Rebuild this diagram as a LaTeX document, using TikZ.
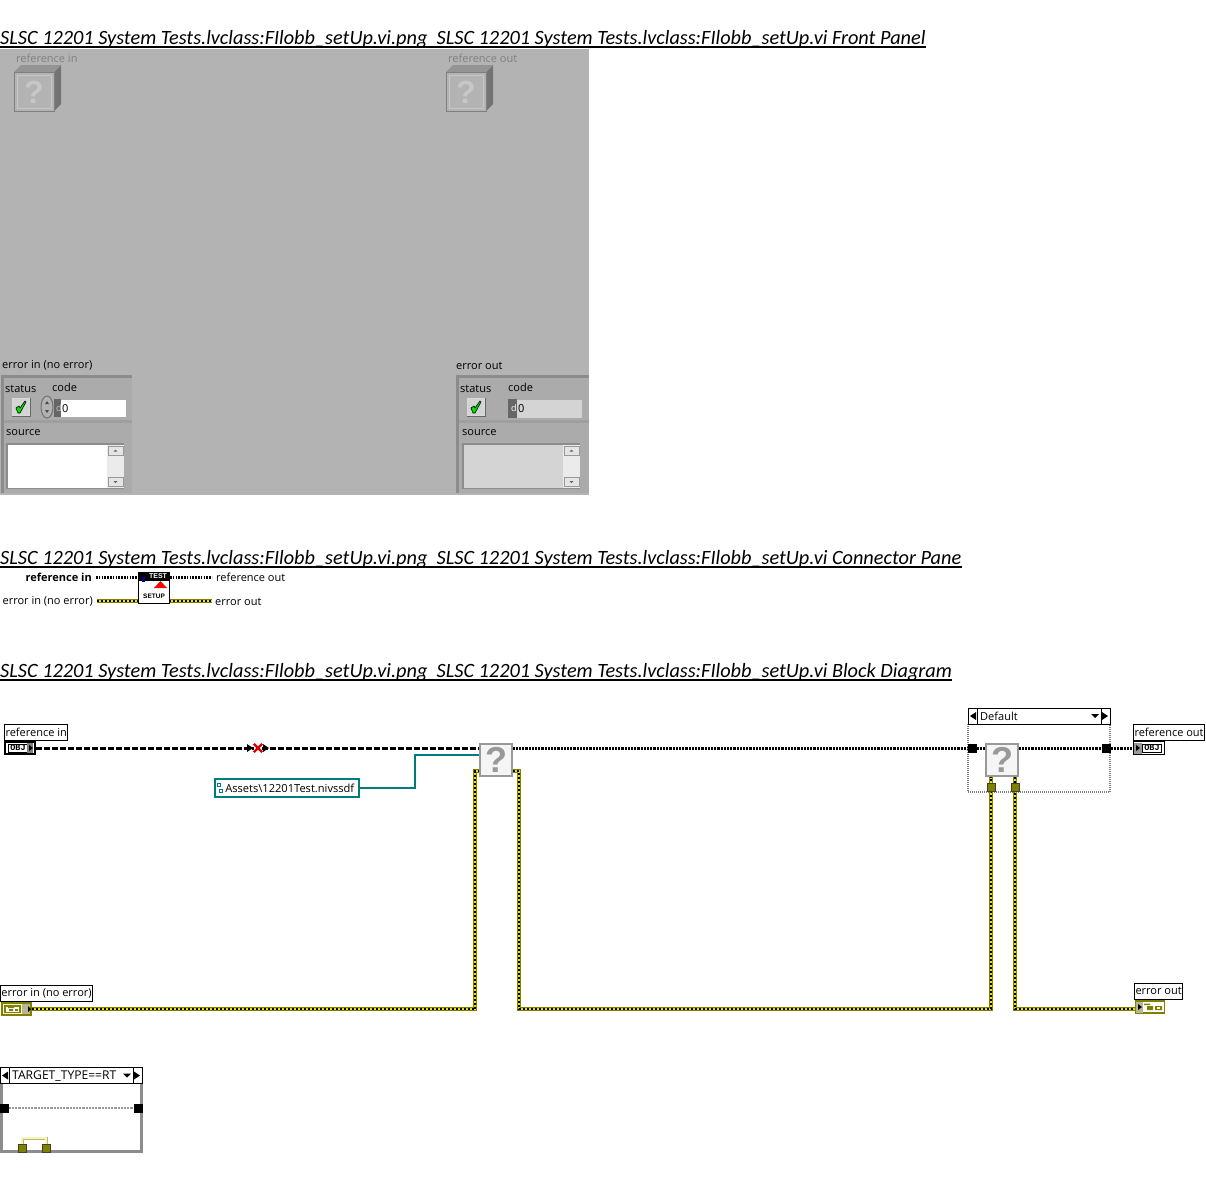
\documentclass[tikz,border=0pt]{standalone}
\usepackage{fontspec}
\setmainfont{Open Sans}
\newfontfamily\titlefont{Carlito}
\newfontfamily\heavyfont{Liberation Sans}
\newfontfamily\objfont{Liberation Mono}
\usepackage{tikz}
\usetikzlibrary{shapes,positioning,arrows,backgrounds}
\definecolor{PanelGrey}{HTML}{B3B3B3}
\definecolor{ClusterGrey}{HTML}{ABABAB}
\definecolor{EdgeGrey}{HTML}{8C8C8C}
\definecolor{LightGrey}{HTML}{D4D4D4}
\definecolor{WireYellow}{HTML}{F2E600}
\definecolor{TunnelOlive}{HTML}{808000}
\definecolor{PaleYellow}{HTML}{F4F4C4}
\definecolor{PathTeal}{HTML}{007C7C}

\begin{document}
\begin{tikzpicture}[x=1pt,y=-1pt,
		titlenode/.style={anchor=west, inner sep=0pt, font=\titlefont\fontsize{20.3}{22}\selectfont\itshape},
		titleline/.style={draw=black, line width=2pt},
		plain/.style={anchor=west, inner sep=0pt, font=\fontsize{11}{12}\selectfont},
		dimmed/.style={plain, text=black!50},
		labelbox/.style={plain, draw=black, fill=white, line width=1pt, inner xsep=1pt, minimum height=16pt},
		whatnode/.style={rectangle, draw=black!40, fill=black!4, line width=1.3pt, minimum size=32pt, inner sep=0pt, text=black!40, font=\heavyfont\bfseries\fontsize{36}{36}\selectfont},
		tunnel/.style={rectangle, draw=black!70!olive, fill=TunnelOlive, minimum size=8pt, inner sep=0pt},
		blacktunnel/.style={rectangle, fill=black, minimum size=9pt, inner sep=0pt},
		objterm/.style={rectangle, draw=black, fill=white, line width=2.4pt, minimum width=30pt, minimum height=12pt, inner sep=0pt},
		objtext/.style={draw=black, line width=1pt, fill=white, inner sep=0pt, minimum width=20pt, minimum height=8pt, font=\objfont\bfseries\fontsize{8.5}{8}\selectfont},
		errterm/.style={rectangle, draw=TunnelOlive, fill=PaleYellow, line width=2pt, minimum width=29pt, minimum height=12pt, inner sep=0pt},
		refwire/.style={draw=black, line width=3pt, dash pattern=on 5.5pt off 2.5pt},
		stripewire/.style={draw=black, line width=3pt, dash pattern=on 2.2pt off 1pt},
		errwire/.style={draw=TunnelOlive, line width=3.6pt, postaction={draw=WireYellow, line width=2.4pt}, postaction={draw=black, line width=1.5pt, dash pattern=on 2pt off 2pt}},
		pathwire/.style={draw=PathTeal, line width=1.2pt},
		btn/.style={rectangle, draw=white!85!black, fill=LightGrey, line width=1pt, minimum size=17pt, inner sep=0pt}
		]
		\useasboundingbox (0,0) rectangle (1206,1203);

		% Titles
		\node[titlenode] (TitleFront) at (0,39) {SLSC 12201 System Tests.lvclass:FIlobb\_setUp.vi.png\ \ SLSC 12201 System Tests.lvclass:FIlobb\_setUp.vi Front Panel};
		\node[titlenode] (TitlePane) at (0,559) {SLSC 12201 System Tests.lvclass:FIlobb\_setUp.vi.png\ \ SLSC 12201 System Tests.lvclass:FIlobb\_setUp.vi Connector Pane};
		\node[titlenode] (TitleDiagram) at (0,672) {SLSC 12201 System Tests.lvclass:FIlobb\_setUp.vi.png\ \ SLSC 12201 System Tests.lvclass:FIlobb\_setUp.vi Block Diagram};
		\draw[titleline] (0,47) -- (TitleFront.east |- 0,47);
		\draw[titleline] (0,567) -- (TitlePane.east |- 0,567);
		\draw[titleline] (0,680) -- (TitleDiagram.east |- 0,680);

		% Front panel
		\fill[PanelGrey] (0,49) rectangle (589,495);
		\node[dimmed] (RefInLabel) at (16,58.5) {reference in};
		\node[dimmed] (RefOutLabel) at (448,58.5) {reference out};
		\foreach \x in {14,446} {
			\begin{scope}[shift={(\x,0)}]
				\fill[black!55] (40,72) -- (47,65) -- (47,104) -- (40,111) -- cycle;
				\fill[black!42] (0,72) -- (7,65) -- (47,65) -- (40,72) -- cycle;
				\draw[black!50, fill=PanelGrey, line width=1pt] (0,72) rectangle (40,111);
				\draw[black!22, line width=1pt] (3,75) rectangle (37,108);
				\node[text=black!22, font=\heavyfont\bfseries\fontsize{32}{32}\selectfont] (Cube\x) at (20,92) {?};
			\end{scope}
		}

		% Error clusters
		\node[plain] (ErrInLabel) at (2,365.5) {error in (no error)};
		\node[plain] (ErrOutLabel) at (456,365.5) {error out};
		\foreach \x/\w in {-1/133,454/135} {
			\fill[EdgeGrey] (\x+2,375) rectangle ++(\w-2,118);
			\fill[ClusterGrey] (\x+5,378) rectangle ++(\w-5,115);
			\fill[ClusterGrey!93!black] (\x+5,420) rectangle ++(\w-5,3);
		}
		\node[plain] (StatusIn) at (5,388.5) {status};
		\node[plain] (CodeIn) at (52,387.5) {code};
		\node[plain] (SourceIn) at (6,432.5) {source};
		\node[plain] (StatusOut) at (460,388.5) {status};
		\node[plain] (CodeOut) at (508,387.5) {code};
		\node[plain] (SourceOut) at (462,432.5) {source};
		\node[btn] (BtnIn) at (21,407) {};
		\node[btn] (BtnOut) at (476,407) {};
		\foreach \p in {BtnIn,BtnOut} {
			\draw[black!60, line width=1pt] (\p.north east) -- (\p.south east) -- (\p.south west);
			\draw[black, fill=green!90!black, line width=.6pt] ([shift={(-5,1)}]\p.center) -- ([shift={(-2,-1)}]\p.center) -- ([shift={(-1,1)}]\p.center) -- ([shift={(4,-6)}]\p.center) -- ([shift={(5,-5)}]\p.center) -- ([shift={(-1,6)}]\p.center) -- ([shift={(-3,6)}]\p.center) -- cycle;
		}
		\draw[black!55, fill=black!30, line width=1pt] (47,407) ellipse (6pt and 11pt);
		\fill[black!70] (47,401) -- (45,404) -- (49,404) -- cycle (47,413) -- (45,410) -- (49,410) -- cycle;
		\fill[black!60] (54,399) rectangle (61,417);
		\node[rectangle, fill=white, anchor=west, minimum width=65pt, minimum height=17pt, inner sep=0pt] (CodeInBox) at (61,408.5) {};
		\node[plain, text=black!20, font=\fontsize{9}{10}\selectfont] at (56,408.5) {d};
		\node[plain] (CodeInVal) at (62,408.5) {0};
		\fill[black!60] (508,399) rectangle (517,418);
		\node[rectangle, fill=LightGrey, anchor=west, minimum width=65pt, minimum height=18pt, inner sep=0pt] (CodeOutBox) at (517,408.5) {};
		\node[plain, text=white, font=\fontsize{9}{10}\selectfont] at (511,408.5) {d};
		\node[plain] (CodeOutVal) at (518,408.5) {0};

		% Source boxes
		\foreach \x/\c in {8/white,464/LightGrey} {
			\fill[EdgeGrey] (\x-2,443) rectangle ++(118,46);
			\fill[\c] (\x,445) rectangle ++(116,43);
			\fill[black!8] (\x+99,445) rectangle ++(17,43);
			\draw[black!40, fill=black!10] (\x+100,446) rectangle ++(15,9);
			\draw[black!40, fill=black!10] (\x+100,477) rectangle ++(15,9);
			\fill[black!60] (\x+107.5,449.5) -- ++(-2,2) -- ++(4,0) -- cycle;
			\fill[black!60] (\x+107.5,483) -- ++(-2,-2) -- ++(4,0) -- cycle;
		}

		% Connector pane
		\node[rectangle, draw=black, fill=white, line width=1pt, minimum size=31pt, inner sep=0pt] (Icon) at (154,588) {};
		\fill[black] (Icon.north west) rectangle ([yshift=-9]Icon.north east);
		\node[text=white, inner sep=0pt, font=\heavyfont\bfseries\fontsize{7}{7}\selectfont] (IconTest) at (158,576.5) {TEST};
		\node[inner sep=0pt, font=\heavyfont\bfseries\fontsize{6.5}{7}\selectfont] (IconSetup) at (154,596.5) {SETUP};
		\fill[red] (154,588) -- (167,588) -- (160.5,581) -- cycle;
		\fill[black] (139,573) rectangle (147,576);
		\fill[blue!60!black] (142,577) rectangle (145,582);
		\node[plain, font=\fontsize{11}{12}\selectfont\bfseries, anchor=east] (PaneRefIn) at (92,577.5) {reference in};
		\node[plain] (PaneRefOut) at (216,577.5) {reference out};
		\node[plain, anchor=east] (PaneErrIn) at (93,601.5) {error in (no error)};
		\node[plain] (PaneErrOut) at (215,601.5) {error out};
		\path[stripewire, line width=2.4pt, dash pattern=on 1.6pt off 1.2pt] ([xshift=4]PaneRefIn.east) -- (PaneRefIn.east -| Icon.west);
		\path[stripewire, line width=2.4pt, dash pattern=on 1.6pt off 1.2pt] (PaneRefOut.west -| Icon.east) -- ([xshift=-4]PaneRefOut.west);
		\begin{pgfonlayer}{background}
			\path[errwire] ([shift={(4,-0.5)}]PaneErrIn.east) -- ([shift={(-3,-0.5)}]PaneErrOut.west);
		\end{pgfonlayer}

		% Block diagram nodes
		\node[labelbox] (BlockRefIn) at (4,732) {reference in};
		\node[objterm] (TermRefIn) at (20,748) {};
		\node[objtext] (ObjIn) at (18,748) {OBJ};
		\fill[black!50] (27,743) rectangle (33,753);
		\fill[black] (29,745) -- (33,748) -- (29,751) -- cycle;
		\node[labelbox] (BlockErrIn) at (0,993) {error in (no error)};
		\node[errterm] (TermErrIn) at (16,1009) {};
		\fill[black!25!PaleYellow] (22,1004) rectangle (30,1014);
		\fill[TunnelOlive] (4,1005) rectangle (21,1013);
		\fill[white] (6,1006.5) rectangle (19,1011.5);
		\fill[TunnelOlive] (8,1007) rectangle (14,1008) (9,1009) rectangle (13,1011) (15,1009) rectangle (18,1011);
		\fill[black] (28,1006) -- (31,1009) -- (28,1012) -- cycle;
		\node[labelbox] (BlockRefOut) at (1133,732) {reference out};
		\node[objterm, line width=1pt, minimum width=31pt, minimum height=13pt] (TermRefOut) at (1149,748) {};
		\node[objtext, minimum width=19pt] (ObjOut) at (1152,748) {OBJ};
		\fill[black!40] (1134,743) rectangle (1142,754);
		\fill[black] (1136,745) -- (1140,748) -- (1136,751) -- cycle;
		\node[labelbox] (BlockErrOut) at (1134,991) {error out};
		\node[errterm, fill=white, line width=1.4pt] (TermErrOut) at (1150,1007) {};
		\fill[black!25!PaleYellow] (1136,1002) rectangle (1143,1012.5);
		\fill[black] (1138,1004) -- (1142,1007) -- (1138,1010) -- cycle;
		\fill[TunnelOlive] (1144,1003.5) rectangle (1150,1005) (1147,1006) rectangle (1153,1010) (1155,1006) rectangle (1162,1010);
		\fill[white] (1157,1007) rectangle (1160,1009);
		\node[rectangle, draw=PathTeal, fill=white, line width=1.5pt, anchor=west, minimum width=144pt, minimum height=18pt, inner sep=0pt, font=\fontsize{11.1}{12}\selectfont] (PathConst) at (214,788) {\hspace{6pt}Assets\textbackslash 12201Test.nivssdf};
		\draw[PathTeal, line width=1pt] (217,783) rectangle ++(3,3) (219,789) rectangle ++(3,3);
		\node[whatnode] (WhatOne) at (496,760) {?};
		\node[whatnode] (WhatTwo) at (1002,760) {?};
		\node[cross out, draw=red!85!black, line width=2.4pt, minimum size=6pt, inner sep=0pt] (Breakpoint) at (258,748) {};
		\fill[black] (247,744) -- (253,748) -- (247,752) -- cycle (263,744) -- (269,748) -- (263,752) -- cycle;

		% Case structure
		\draw[black!50, line width=2pt, dash pattern=on 1pt off 1pt] (968,724) rectangle (1110,792);
		\node[rectangle, draw=black, fill=white, line width=1pt, anchor=west, minimum width=142pt, minimum height=16pt, inner sep=0pt] (CaseDefault) at (968,716) {};
		\node[plain] (CaseDefaultText) at (980,716.5) {Default};
		\node[blacktunnel] (TunnelLeft) at (972,748) {};
		\node[blacktunnel] (TunnelRight) at (1106,748) {};
		\node[tunnel] (TunnelErrA) at (991,787.5) {};
		\node[tunnel] (TunnelErrB) at (1015,787.5) {};

		% Conditional structure
		\draw[black!45, line width=3pt] (1,1083) -- (1,1151) -- (141,1151) -- (141,1083);
		\node[rectangle, draw=black, fill=white, line width=1pt, anchor=west, minimum width=142pt, minimum height=16pt, inner sep=0pt] (CaseTarget) at (0,1075.5) {};
		\node[plain, font=\fontsize{12.1}{12}\selectfont] (CaseTargetText) at (12,1076) {TARGET\_TYPE==RT};
		\node[blacktunnel] (TunnelTargetL) at (4,1108) {};
		\node[blacktunnel] (TunnelTargetR) at (138,1108) {};
		\node[tunnel] (TunnelTargetA) at (22,1148) {};
		\node[tunnel] (TunnelTargetB) at (46,1148) {};
		\coordinate (TargetUpA) at (22,1138);
		\coordinate (TargetUpB) at (46,1138);

		% Selector arrows
		\foreach \x in {968,0} {
			\pgfmathsetmacro{\yy}{\x==0 ? 1075.5 : 716}
			\draw[black, line width=1pt] (\x+9,\yy-8) -- (\x+9,\yy+8) (\x+133,\yy-8) -- (\x+133,\yy+8);
			\fill[black] (\x+2,\yy) -- (\x+8,\yy-4) -- (\x+8,\yy+4) -- cycle;
			\fill[black] (\x+140,\yy) -- (\x+134,\yy-4) -- (\x+134,\yy+4) -- cycle;
			\fill[black] (\x+123,\yy-2) -- (\x+131,\yy-2) -- (\x+127,\yy+2) -- cycle;
		}

		% Bends
		\coordinate (TealBend) at (415,755);
		\coordinate (ErrBendA) at (475,771);
		\coordinate (ErrBendB) at (519,771);

		% Main Paths
		\begin{pgfonlayer}{background}
			\path[refwire] (TermRefIn.east) -- (Breakpoint);
			\path[refwire] (Breakpoint) -- (Breakpoint -| WhatOne.west);
			\path[stripewire] (TunnelLeft -| WhatOne.east) -- (TunnelLeft);
			\path[stripewire] (TunnelLeft) -- (TunnelLeft -| WhatTwo.west);
			\path[stripewire] (TunnelLeft -| WhatTwo.east) -- (TunnelRight);
			\path[stripewire] (TunnelRight) -- (TermRefOut.west);
			\path[pathwire] (PathConst.east) -| (TealBend) -- (TealBend -| WhatOne.west);
			\path[errwire] (TermErrIn.east) -| (ErrBendA) -- (ErrBendA -| WhatOne.west);
			\path[errwire] (ErrBendB -| WhatOne.east) -- (ErrBendB) |- (TunnelErrA |- TermErrIn) -- (TunnelErrA |- WhatOne.south);
			\path[errwire] (TunnelErrB |- WhatTwo.south) -- (TunnelErrB |- TermErrIn) -- (TermErrOut.west |- TermErrIn);
			\path[stripewire, draw=black!40, line width=2pt] (TunnelTargetL) -- (TunnelTargetR);
			\draw[TunnelOlive!50!PaleYellow, line width=3pt] (TunnelTargetA) -- (TargetUpA) -- (TargetUpB) -- (TunnelTargetB);
			\draw[PaleYellow, line width=1.6pt] (TunnelTargetA) -- (TargetUpA) -- (TargetUpB) -- (TunnelTargetB);
		\end{pgfonlayer}
	\end{tikzpicture}
\end{document}
